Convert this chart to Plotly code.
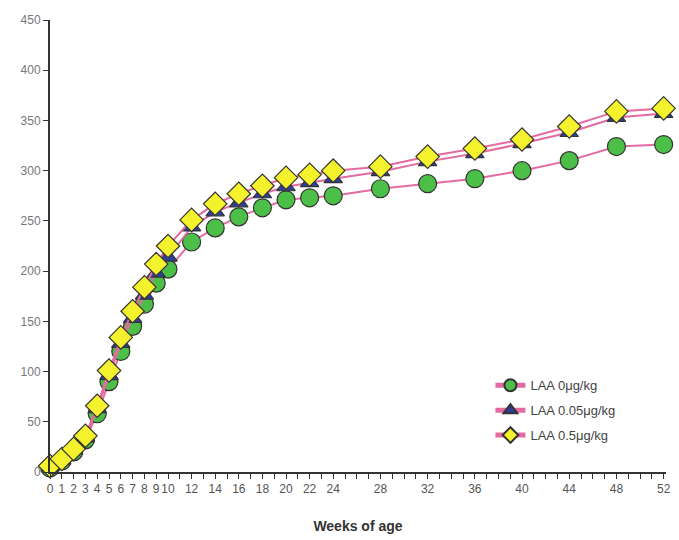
import plotly.graph_objects as go

weeks = [0, 1, 2, 3, 4, 5, 6, 7, 8, 9, 10, 12, 14, 16, 18, 20, 22, 24, 28, 32, 36, 40, 44, 48, 52]
laa_0 = [4, 11, 20, 32, 58, 90, 120, 145, 167, 188, 202, 229, 243, 254, 263, 271, 273, 275, 282, 287, 292, 300, 310, 324, 326]
laa_005 = [5, 12, 22, 34, 63, 96, 128, 153, 176, 198, 214, 244, 259, 268, 277, 284, 288, 292, 299, 309, 317, 327, 338, 353, 357]
laa_05 = [6, 13, 23, 36, 66, 101, 134, 160, 184, 207, 225, 251, 267, 277, 285, 293, 296, 300, 304, 314, 322, 331, 344, 359, 362]

x_tickvals = [0, 1, 2, 3, 4, 5, 6, 7, 8, 9, 10, 12, 14, 16, 18, 20, 22, 24, 28, 32, 36, 40, 44, 48, 52]
y_tickvals = [0, 50, 100, 150, 200, 250, 300, 350, 400, 450]

line_color = "#e46aa2"
outline = "#333333"

fig = go.Figure()
fig.add_trace(go.Scatter(
    x=weeks, y=laa_0, mode="lines+markers", name="LAA 0μg/kg", legendgroup="a",
    line=dict(color=line_color, width=2),
    marker=dict(symbol="circle", size=18, color="#4cbf48", line=dict(color=outline, width=1.2)),
    cliponaxis=False,
))
fig.add_trace(go.Scatter(
    x=weeks, y=laa_005, mode="lines+markers", name="LAA 0.05μg/kg", legendgroup="b",
    line=dict(color=line_color, width=2),
    marker=dict(symbol="triangle-up", size=16, color="#2e3f9a", line=dict(color=outline, width=1.2)),
    cliponaxis=False,
))
fig.add_trace(go.Scatter(
    x=weeks, y=laa_05, mode="lines+markers", name="LAA 0.5μg/kg", legendgroup="c",
    line=dict(color=line_color, width=2),
    marker=dict(symbol="diamond", size=18, color="#f4f22c", line=dict(color=outline, width=1.2)),
    cliponaxis=False,
))

fig.update_layout(
    width=679, height=540,
    margin=dict(l=50, r=8, t=20, b=66),
    plot_bgcolor="white", paper_bgcolor="white",
    font=dict(family="Liberation Sans, Arial, sans-serif", size=12, color="#555555"),
    showlegend=True,
    legend=dict(
        x=0.715, y=0.225, xanchor="left", yanchor="top",
        bgcolor="rgba(255,255,255,0)", font=dict(size=13, color="#444444"),
        itemsizing="constant", traceorder="grouped", tracegroupgap=5,
    ),
    xaxis=dict(
        range=[0, 52.2], tickmode="array", tickvals=x_tickvals,
        ticktext=[str(v) for v in x_tickvals], tickangle=0,
        showline=True, linecolor="#333333", linewidth=2,
        ticks="outside", ticklen=5, tickcolor="#333333", tickwidth=1,
        minor=dict(dtick=1, tick0=0, ticks="outside", ticklen=5, tickcolor="#333333", tickwidth=1),
        showgrid=False, zeroline=False,
        tickfont=dict(family="Liberation Sans Narrow, Liberation Sans, Arial", size=12, color="#555555"),
        title=dict(text="<b>Weeks of age</b>", font=dict(size=14, color="#333333"), standoff=26),
    ),
    yaxis=dict(
        range=[0, 450], tickmode="array", tickvals=y_tickvals,
        showline=True, linecolor="#333333", linewidth=2,
        ticks="outside", ticklen=5, tickcolor="#333333", tickwidth=1,
        showgrid=False, zeroline=False,
        tickfont=dict(size=12, color="#777777"),
    ),
)

fig.write_html("out.html")
